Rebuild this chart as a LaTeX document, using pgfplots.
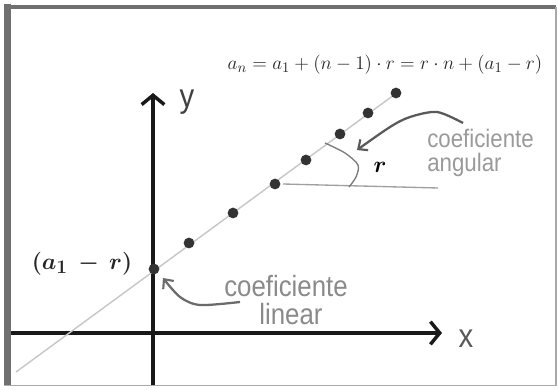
\documentclass[border=0pt]{standalone}
\usepackage{amsmath}
\usepackage{fontspec}
\newfontfamily\lab[FakeStretch=0.88]{Liberation Sans}
\usepackage{pgfplots}
\pgfplotsset{compat=1.18}
\usetikzlibrary{arrows.meta}
\definecolor{frame}{HTML}{707070}
\definecolor{dotc}{HTML}{333333}
\definecolor{guide}{HTML}{C8C8C8}
\definecolor{note}{HTML}{8A8A8A}
\definecolor{notel}{HTML}{9A9A9A}
\definecolor{arr}{HTML}{5A5A5A}

\begin{document}
\begin{tikzpicture}
\begin{axis}[
    x=0.75pt, y=0.75pt,
    xmin=-143, xmax=289,
    ymin=-52, ymax=240,
    axis lines=middle,
    axis line style={line width=3pt, color=black!90,
        -{Straight Barb[length=7pt,width=17pt,line width=2.6pt]}},
    xtick=\empty, ytick=\empty,
    clip=false,
]
% picture area and frame
\path (axis cs:-153,333) rectangle (axis cs:405,-54);
\draw[frame, line width=5pt] (axis cs:-145.5,329) -- (axis cs:-145.5,-53);
\draw[frame, line width=3pt] (axis cs:-149,326) -- (axis cs:403,326);
\draw[frame!60, line width=1pt] (axis cs:403,326) -- (axis cs:403,-53);
\draw[frame!60, line width=1.2pt] (axis cs:-149,-52.5) -- (axis cs:403,-52.5);

% guide line through the points
\addplot[guide, line width=1.1pt] coordinates {(-137,-39) (245,241)};

% terms of the progression
\addplot[only marks, mark=*, mark size=3.8pt, dotc] coordinates {
    (1,64) (36,90) (80,120) (122,149) (153,173) (187,199) (215,220) (243,240)
};

% angle
\addplot[guide!80!black, line width=1pt] coordinates {(130,149) (285,145)};
\addplot[arr!80, line width=1pt, smooth] coordinates {
    (172,190) (192,180) (205,168) (203,156) (196,146)
};
\node[font=\fontsize{17}{17}\selectfont] at (axis cs:227,166) {$\boldsymbol{r}$};

% arrows to the notes
\addplot[arr, line width=1.7pt, smooth,
    -{Straight Barb[length=5.5pt,width=10pt,line width=1.6pt]}] coordinates {
    (310,210) (284,221) (257,216) (237,206) (204,183)
};
\addplot[arr!90, line width=1.7pt, smooth,
    -{Straight Barb[length=5.5pt,width=10pt,line width=1.6pt]}] coordinates {
    (87,31) (47,28) (27,36) (10,55)
};

% texts
\node[anchor=base west, inner sep=0pt, text=notel, font=\lab\fontsize{19}{19}\selectfont]
    at (axis cs:274,185) {coeficiente};
\node[anchor=base west, inner sep=0pt, text=notel, font=\lab\fontsize{19}{19}\selectfont]
    at (axis cs:274,161) {angular};
\node[anchor=base, inner sep=0pt, text=note, font=\lab\fontsize{22}{22}\selectfont]
    at (axis cs:133,36) {coeficiente};
\node[anchor=base, inner sep=0pt, text=note, font=\lab\fontsize{22}{22}\selectfont]
    at (axis cs:138,8) {linear};
\node[text=black!75, font=\lab\fontsize{25}{25}\selectfont]
    at (axis cs:34,231) {y};
\node[text=black!65, font=\lab\fontsize{25}{25}\selectfont]
    at (axis cs:313,-6) {x};
\node[text=black!85, font=\boldmath\fontsize{19}{19}\selectfont]
    at (axis cs:-71,69) {$(a_1\,-\,r)$};
\node[text=black!85, font=\fontsize{15.5}{15.5}\selectfont]
    at (axis cs:232,268) {$a_n = a_1 + (n-1)\cdot r = r\cdot n + (a_1 - r)$};
\end{axis}
\end{tikzpicture}
\end{document}
